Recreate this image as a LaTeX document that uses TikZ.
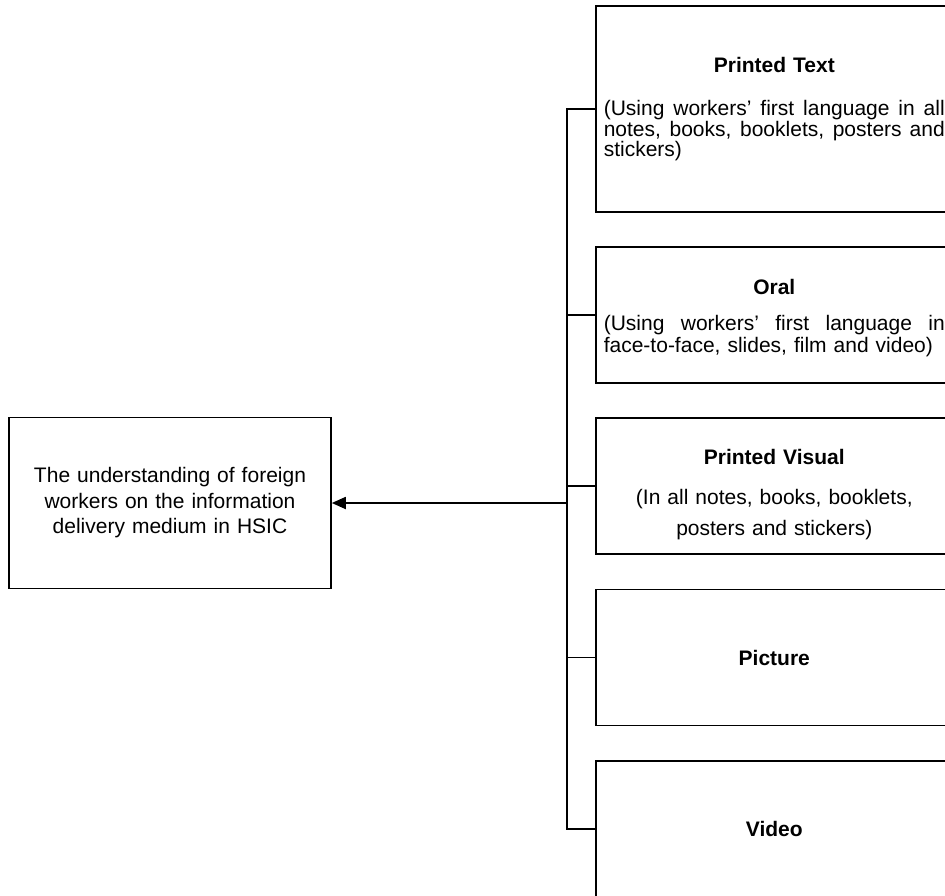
\documentclass[tikz,border=0pt]{standalone}
\usepackage{fontspec}
\setmainfont{Liberation Sans}
\usetikzlibrary{arrows.meta}
\tikzset{
  box/.style={draw=black, line width=1.6pt, inner sep=0pt},
  medium/.style={box, anchor=west, text width=343pt, inner xsep=7pt, align=center, minimum height=136pt},
  link/.style={draw=black, line width=1.4pt},
  arr/.style={draw=black, line width=1.8pt, -{Triangle[length=14pt,width=12pt]}},
}
\newcommand{\jline}[1]{\makebox[341pt][s]{\spaceskip=0pt #1}}
\newcommand{\lline}[1]{\makebox[341pt][l]{#1}}

\begin{document}
\begin{tikzpicture}[x=1pt, y=-1pt]
  \clip (0,0) rectangle (945,896);
  \coordinate (hub) at (567,503);
  % media on the right
  \node[medium, minimum height=206pt, font=\fontsize{21}{20.5}\selectfont] (t1) at (595,109)
    {{\bfseries Printed Text}\\[23pt]
     \jline{(Using workers' first language in all}\\
     \jline{notes, books, booklets, posters and}\\
     \lline{stickers)}};
  \node[medium, font=\fontsize{21}{22}\selectfont] (t2) at (595,315)
    {{\rule{0pt}{21pt}\bfseries Oral}\\[14pt]
     \jline{(Using workers' first language in}\\
     \lline{face-to-face, slides, film and video)}};
  \node[medium, font=\fontsize{21}{31}\selectfont] (t3) at (595,486)
    {{\rule{0pt}{33pt}\bfseries Printed Visual}\\[9pt]
     (In all notes, books, booklets,\\
     posters and stickers)};
  \node[medium, font=\fontsize{21}{21}\selectfont] (t4) at (595,657.5) {\bfseries Picture};
  \node[medium, font=\fontsize{21}{21}\selectfont] (t5) at (595,829) {\bfseries Video};
  % outcome
  \node[box, minimum width=322pt, minimum height=171pt, text width=300pt, align=center,
        font=\fontsize{21}{25.5}\selectfont] (und) at (170,503)
    {The understanding of foreign\\workers on the information\\delivery medium in HSIC};
  \draw[link] (t1.west) -| (hub);
  \draw[link] (t5.west) -| (hub);
  \foreach \n in {t2,t3,t4}
    \draw[link] (\n.west) -- (\n.west -| hub);
  \draw[arr] (hub) -- (und);
\end{tikzpicture}
\end{document}
